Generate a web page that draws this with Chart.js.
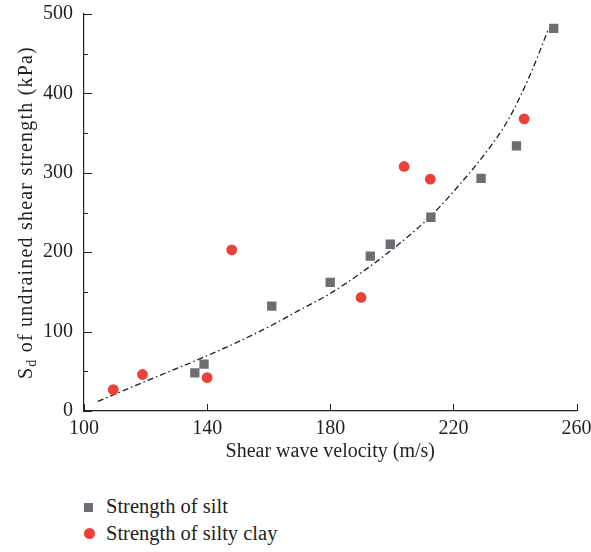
<!DOCTYPE html>
<html>
<head>
<meta charset="utf-8">
<script src="https://cdn.jsdelivr.net/npm/chart.js@4.4.1/dist/chart.umd.min.js"></script>
<style>
    html, body { margin: 0; padding: 0; background: #fff; }
    #wrap { position: relative; width: 591px; height: 552px; }
    #chart { position: absolute; left: 0; top: 0; }
    #legend { position: absolute; left: 84px; top: 494px;
              font: 20.5px "Liberation Serif", "DejaVu Serif", serif; color: #231f20; }
    .item { position: relative; height: 27px; line-height: 24px; padding-left: 22px; white-space: nowrap; }
    .mark { position: absolute; left: 0; }
</style>
</head>
<body>
<div id="wrap">
    <canvas id="chart" width="591" height="471"></canvas>
    <div id="legend"></div>
</div>
<script>
// ── Data ────────────────────────────────────────────────────────
const siltVelocity = [136, 139, 161, 180, 193, 199.5, 212.7, 229, 240.5, 252.6];
const siltStrength = [48, 59, 132, 162, 195, 210, 244, 293, 334, 482];

const clayVelocity = [109.5, 119, 140, 148, 190, 204, 212.5, 243];
const clayStrength = [27, 46, 42, 203, 143, 308, 292, 368];

// fitted trend line, traced point by point
const fitVelocity = [104.5, 121, 139, 150, 161, 170, 180, 190, 200, 212.5, 222, 232, 238, 245, 251];
const fitStrength = [12, 39, 68, 87, 108, 127, 148, 174, 203, 245, 285, 333, 368, 424, 482];

const xTicks = [100, 140, 180, 220, 260];
const yTicks = [0, 100, 200, 300, 400, 500];

const FONT = '"Liberation Serif", "DejaVu Serif", serif';
const INK = '#231f20';

function pairs(xs, ys) {
    return xs.map((x, i) => ({ x: x, y: ys[i] }));
}

// inward tick marks (major + minor on y, major on x)
const innerTicks = {
    id: 'innerTicks',
    afterDatasetsDraw(chart) {
        const { ctx, chartArea, scales } = chart;
        ctx.save();
        ctx.strokeStyle = INK;
        ctx.lineWidth = 1;
        for (let v = 0; v <= 500; v += 50) {
            const y = Math.round(scales.y.getPixelForValue(v)) + 0.5;
            const len = v % 100 === 0 ? 8 : 4;
            ctx.beginPath();
            ctx.moveTo(chartArea.left, y);
            ctx.lineTo(chartArea.left + len, y);
            ctx.stroke();
        }
        xTicks.forEach(v => {
            const x = Math.round(scales.x.getPixelForValue(v)) + 0.5;
            ctx.beginPath();
            ctx.moveTo(x, chartArea.bottom);
            ctx.lineTo(x, chartArea.bottom - 7);
            ctx.stroke();
        });
        ctx.restore();
    },
};

// y title with subscript "d"
const yTitle = {
    id: 'yTitle',
    afterDraw(chart) {
        const { ctx, chartArea } = chart;
        const big = '20px ' + FONT, small = '14px ' + FONT;
        const rest = ' of undrained shear strength (kPa)';
        ctx.save();
        ctx.fillStyle = INK;
        ctx.letterSpacing = '1.2px';
        ctx.font = big;
        const wS = ctx.measureText('S').width;
        const wR = ctx.measureText(rest).width;
        ctx.font = small;
        const wd = ctx.measureText('d').width;
        const total = wS + wd + wR;
        const cy = (chartArea.top + chartArea.bottom) / 2;
        ctx.translate(32, cy);
        ctx.rotate(-Math.PI / 2);
        ctx.textBaseline = 'alphabetic';
        let x = -total / 2;
        ctx.font = big;
        ctx.fillText('S', x, 0);
        x += wS;
        ctx.font = small;
        ctx.fillText('d', x, 4);
        x += wd;
        ctx.font = big;
        ctx.fillText(rest, x, 0);
        ctx.restore();
    },
};

const datasets = [
    {
        label: 'Strength of silt',
        data: pairs(siltVelocity, siltStrength),
        pointStyle: 'rect',
        pointRadius: 6.6,
        backgroundColor: '#6d6e72',
        borderColor: '#6d6e72',
        borderWidth: 0,
        showLine: false,
        order: 1,
    },
    {
        label: 'Strength of silty clay',
        data: pairs(clayVelocity, clayStrength),
        pointStyle: 'circle',
        pointRadius: 5.4,
        backgroundColor: '#ec4138',
        borderColor: '#ec4138',
        borderWidth: 0,
        showLine: false,
        order: 2,
    },
    {
        label: 'fit',
        data: pairs(fitVelocity, fitStrength),
        showLine: true,
        pointRadius: 0,
        borderColor: '#1e1e1e',
        borderWidth: 1.3,
        borderDash: [6, 3, 1.5, 3],
        cubicInterpolationMode: 'monotone',
        fill: false,
        order: 3,
    },
];

new Chart(document.getElementById('chart'), {
    type: 'scatter',
    data: { datasets },
    options: {
        responsive: false,
        animation: false,
        layout: { padding: { top: 14, right: 14.5, left: 0, bottom: 0 } },
        plugins: { legend: { display: false }, tooltip: { enabled: false } },
        scales: {
            x: {
                type: 'linear', min: 100, max: 260,
                afterBuildTicks: s => { s.ticks = xTicks.map(v => ({ value: v })); },
                afterFit: s => {
                    s.height = 60;
                    s.paddingLeft = 0; s.paddingRight = 0;
                },
                grid: { display: false, drawTicks: false },
                border: { display: true, color: INK, width: 1.2 },
                ticks: { color: INK, padding: 6, font: { family: FONT, size: 20 } },
                title: {
                    display: true, text: 'Shear wave velocity (m/s)', color: INK,
                    font: { family: FONT, size: 20, lineHeight: 1.2 },
                    padding: { top: 0, bottom: 7 },
                },
            },
            y: {
                type: 'linear', min: 0, max: 500,
                afterBuildTicks: s => { s.ticks = yTicks.map(v => ({ value: v })); },
                afterFit: s => {
                    s.width = 84;
                    s.paddingTop = 0; s.paddingBottom = 0;
                },
                grid: { display: false, drawTicks: false },
                border: { display: true, color: INK, width: 1.2 },
                ticks: { color: INK, padding: 11, font: { family: FONT, size: 20 } },
            },
        },
    },
    plugins: [innerTicks, yTitle],
});

// legend below the plot
const legendHost = document.getElementById('legend');
legendHost.innerHTML = datasets.slice(0, 2).map(ds => {
    const isRect = ds.pointStyle === 'rect';
    const mark = isRect
        ? `<span class="mark" style="top:9px;width:9px;height:9px;background:${ds.backgroundColor};"></span>`
        : `<span class="mark" style="top:7px;width:11px;height:11px;border-radius:50%;background:${ds.backgroundColor};"></span>`;
    return `<div class="item">${mark}${ds.label}</div>`;
}).join('');
</script>
</body>
</html>
